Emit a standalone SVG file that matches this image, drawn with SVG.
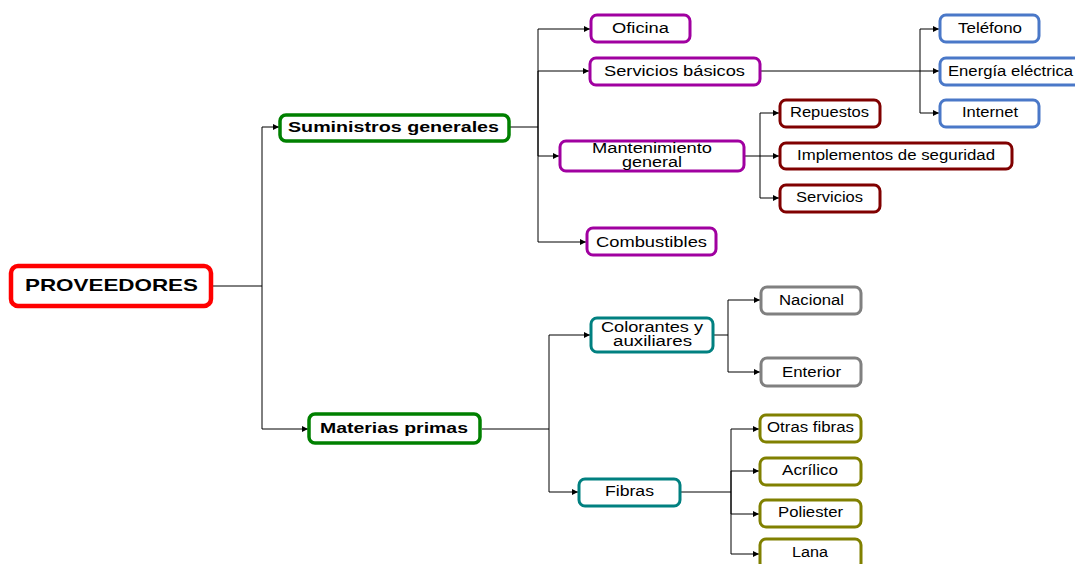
<svg xmlns="http://www.w3.org/2000/svg" width="1075" height="564" viewBox="0 0 1075 564">
  <style>
    .box { fill: #ffffff; stroke-width: 3; }
    .t { font-family: "Liberation Sans", Arial, sans-serif; font-size: 14px; fill: #000; text-anchor: middle; }
    .b { font-weight: bold; font-size: 15px; }
    .root { stroke: #ff0000; stroke-width: 4.5; }
    .l1 { stroke: #008000; stroke-width: 3.5; }
    .purple { stroke: #a000a0; }
    .blue { stroke: #4a78c8; }
    .maroon { stroke: #800000; }
    .teal { stroke: #008080; }
    .grey { stroke: #808080; }
    .olive { stroke: #808000; }
    .conn path { fill: none; stroke: #000; stroke-width: 1; }
  </style>
  <defs>
    <marker id="arrow" markerWidth="6" markerHeight="6" refX="6" refY="3" orient="auto" markerUnits="userSpaceOnUse">
      <path d="M0,0 L6,3 L0,6 z" fill="#000"/>
    </marker>
  </defs>
  <rect width="1075" height="564" fill="#ffffff"/>

  <!-- connectors -->
  <g id="connectors" class="conn">
    <path d="M212 286 H262"/>
    <path d="M262 286 V127 H279" marker-end="url(#arrow)"/>
    <path d="M262 286 V429 H308" marker-end="url(#arrow)"/>

    <path d="M510 127 H538"/>
    <path d="M538 127 V29 H590" marker-end="url(#arrow)"/>
    <path d="M538 127 V71 H589" marker-end="url(#arrow)"/>
    <path d="M538 127 V156 H559" marker-end="url(#arrow)"/>
    <path d="M538 127 V242 H586" marker-end="url(#arrow)"/>

    <path d="M761 71 H920"/>
    <path d="M920 71 V29 H939" marker-end="url(#arrow)"/>
    <path d="M920 71 H939" marker-end="url(#arrow)"/>
    <path d="M920 71 V113 H939" marker-end="url(#arrow)"/>

    <path d="M745 156 H760"/>
    <path d="M760 156 V113 H779" marker-end="url(#arrow)"/>
    <path d="M760 156 H779" marker-end="url(#arrow)"/>
    <path d="M760 156 V198 H779" marker-end="url(#arrow)"/>

    <path d="M482 429 H549"/>
    <path d="M549 429 V335 H590" marker-end="url(#arrow)"/>
    <path d="M549 429 V492 H578" marker-end="url(#arrow)"/>

    <path d="M714 335 H728"/>
    <path d="M728 335 V300 H760" marker-end="url(#arrow)"/>
    <path d="M728 335 V372 H760" marker-end="url(#arrow)"/>

    <path d="M681 492 H731"/>
    <path d="M731 492 V429 H759" marker-end="url(#arrow)"/>
    <path d="M731 492 V471 H759" marker-end="url(#arrow)"/>
    <path d="M731 492 V514 H759" marker-end="url(#arrow)"/>
    <path d="M731 492 V554 H759" marker-end="url(#arrow)"/>
  </g>

  <!-- root -->
  <g id="proveedores">
    <rect class="box root" x="11" y="266" width="200" height="40" rx="7"/>
    <text class="t b" x="111.5" y="291" font-size="17" style="font-size:17px" textLength="173" lengthAdjust="spacingAndGlyphs">PROVEEDORES</text>
  </g>

  <!-- first level -->
  <g id="suministros-generales">
    <rect class="box l1" x="280" y="115" width="229" height="26" rx="6"/>
    <text class="t b" x="393.5" y="132" textLength="211" lengthAdjust="spacingAndGlyphs">Suministros generales</text>
  </g>
  <g id="materias-primas">
    <rect class="box l1" x="309" y="414" width="171" height="29" rx="6"/>
    <text class="t b" x="394" y="433" textLength="148" lengthAdjust="spacingAndGlyphs">Materias primas</text>
  </g>

  <!-- suministros generales branch -->
  <g id="oficina">
    <rect class="box purple" x="591" y="15" width="99" height="27" rx="6"/>
    <text class="t" x="640.5" y="33" textLength="57" lengthAdjust="spacingAndGlyphs">Oficina</text>
  </g>
  <g id="servicios-basicos">
    <rect class="box purple" x="590" y="58" width="170" height="27" rx="6"/>
    <text class="t" x="674.5" y="76" textLength="141" lengthAdjust="spacingAndGlyphs">Servicios básicos</text>
  </g>
  <g id="mantenimiento-general">
    <rect class="box purple" x="560" y="141" width="184" height="30" rx="6"/>
    <text class="t" x="652" y="153" textLength="120" lengthAdjust="spacingAndGlyphs">Mantenimiento</text>
    <text class="t" x="652" y="167" textLength="60" lengthAdjust="spacingAndGlyphs">general</text>
  </g>
  <g id="combustibles">
    <rect class="box purple" x="587" y="228" width="129" height="27" rx="6"/>
    <text class="t" x="651.5" y="247" textLength="111" lengthAdjust="spacingAndGlyphs">Combustibles</text>
  </g>

  <!-- servicios basicos branch -->
  <g id="telefono">
    <rect class="box blue" x="940" y="15" width="99" height="27" rx="6"/>
    <text class="t" x="990" y="33" textLength="64" lengthAdjust="spacingAndGlyphs">Teléfono</text>
  </g>
  <g id="energia-electrica">
    <rect class="box blue" x="940" y="58" width="145" height="27" rx="6"/>
    <text class="t" x="1010.5" y="76" textLength="125" lengthAdjust="spacingAndGlyphs">Energía eléctrica</text>
  </g>
  <g id="internet">
    <rect class="box blue" x="940" y="100" width="99" height="27" rx="6"/>
    <text class="t" x="990" y="117" textLength="56" lengthAdjust="spacingAndGlyphs">Internet</text>
  </g>

  <!-- mantenimiento branch -->
  <g id="repuestos">
    <rect class="box maroon" x="780" y="100" width="100" height="27" rx="6"/>
    <text class="t" x="829.5" y="117" textLength="79" lengthAdjust="spacingAndGlyphs">Repuestos</text>
  </g>
  <g id="implementos-de-seguridad">
    <rect class="box maroon" x="780" y="143" width="232" height="26" rx="6"/>
    <text class="t" x="896" y="160" textLength="198" lengthAdjust="spacingAndGlyphs">Implementos de seguridad</text>
  </g>
  <g id="servicios">
    <rect class="box maroon" x="780" y="185" width="100" height="27" rx="6"/>
    <text class="t" x="829.5" y="202" textLength="67" lengthAdjust="spacingAndGlyphs">Servicios</text>
  </g>

  <!-- materias primas branch -->
  <g id="colorantes-y-auxiliares">
    <rect class="box teal" x="591" y="318" width="122" height="34" rx="6"/>
    <text class="t" x="652" y="332" textLength="102" lengthAdjust="spacingAndGlyphs">Colorantes y</text>
    <text class="t" x="652.5" y="346" textLength="79" lengthAdjust="spacingAndGlyphs">auxiliares</text>
  </g>
  <g id="fibras">
    <rect class="box teal" x="579" y="479" width="101" height="27" rx="6"/>
    <text class="t" x="629.5" y="496" textLength="49" lengthAdjust="spacingAndGlyphs">Fibras</text>
  </g>

  <g id="nacional">
    <rect class="box grey" x="761" y="287" width="100" height="27" rx="6"/>
    <text class="t" x="811.5" y="305" textLength="65" lengthAdjust="spacingAndGlyphs">Nacional</text>
  </g>
  <g id="enterior">
    <rect class="box grey" x="761" y="358" width="100" height="28" rx="6"/>
    <text class="t" x="811.5" y="377" textLength="59" lengthAdjust="spacingAndGlyphs">Enterior</text>
  </g>

  <g id="otras-fibras">
    <rect class="box olive" x="760" y="415" width="101" height="27" rx="6"/>
    <text class="t" x="810.5" y="432" textLength="87" lengthAdjust="spacingAndGlyphs">Otras fibras</text>
  </g>
  <g id="acrilico">
    <rect class="box olive" x="760" y="458" width="101" height="27" rx="6"/>
    <text class="t" x="810" y="475" textLength="56" lengthAdjust="spacingAndGlyphs">Acrílico</text>
  </g>
  <g id="poliester">
    <rect class="box olive" x="760" y="500" width="101" height="27" rx="6"/>
    <text class="t" x="810.5" y="517" textLength="65" lengthAdjust="spacingAndGlyphs">Poliester</text>
  </g>
  <g id="lana">
    <rect class="box olive" x="760" y="539" width="101" height="30" rx="6"/>
    <text class="t" x="810" y="557" textLength="36" lengthAdjust="spacingAndGlyphs">Lana</text>
  </g>
</svg>
